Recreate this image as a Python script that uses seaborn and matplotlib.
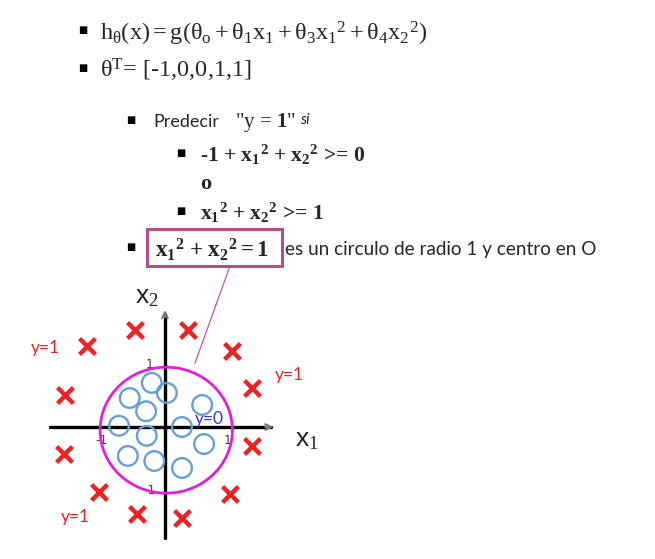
# Frontera de decision circular - diapositiva de regresion logistica

import pandas as pd
import seaborn as sns
import matplotlib.pyplot as plt
from matplotlib.patches import Ellipse, Rectangle

# Step 1: data (units of x1, x2)
cross_x1 = [-0.48, 0.37, -1.24, 1.06, -1.59, 1.38, -1.60, 1.38, -1.05, 1.03, -0.44, 0.27]
cross_x2 = [1.54, 1.54, 1.29, 1.21, 0.51, 0.62, -0.43, -0.30, -1.03, -1.06, -1.38, -1.44]
circle_x1 = [-0.21, -0.56, 0.03, -0.30, 0.59, -0.73, 0.27, -0.29, 0.62, -0.59, -0.17, 0.27]
circle_x2 = [0.70, 0.46, 0.54, 0.25, 0.35, 0.02, 0.00, -0.14, -0.27, -0.46, -0.54, -0.65]
tick_values = [-1, 1]
tick_labels = ['-1', '1']
boundary_radius = [1.05, 1.0]   # drawn boundary (x1, x2 semi-axes)

crosses = pd.DataFrame({'x1': cross_x1, 'x2': cross_x2})
circles = pd.DataFrame({'x1': circle_x1, 'x2': circle_x2})

# Step 2: figure + fonts
sns.set_style('white')
plt.rcParams['font.family'] = ['Lato', 'DejaVu Sans']
plt.rcParams['mathtext.fontset'] = 'custom'
plt.rcParams['mathtext.rm'] = 'Liberation Serif'
plt.rcParams['mathtext.it'] = 'Liberation Serif:italic'
plt.rcParams['mathtext.bf'] = 'Liberation Serif:bold'

W, H = 655, 559
fig = plt.figure(figsize=(W / 100, H / 100), dpi=100)


def px(x, y):
    return x / W, 1 - y / H


def bullet(x, y):
    fig.text(*px(x, y), '\u25a0', fontsize=7, ha='center', va='center',
             family='DejaVu Sans', color='black')


# Step 3: slide text
bullet(83, 30)
fig.text(*px(100, 40),
         r'$\mathrm{h_\theta(x) = g(\theta_o + \theta_1x_1 + \theta_3x_1{}^2 + \theta_4x_2{}^2)}$',
         fontsize=17.5, va='baseline')
bullet(83, 68)
fig.text(*px(100, 77), r'$\mathrm{\theta^T}$= [-1,0,0,1,1]', fontsize=17.5,
         va='baseline', family='Liberation Serif')

bullet(131, 120)
fig.text(*px(153, 127), 'Predecir', fontsize=13, va='baseline')
fig.text(*px(235, 127), r'"y = $\mathbf{1}$"', fontsize=15, va='baseline',
         family='Liberation Serif')
fig.text(*px(300, 124), 'si', fontsize=11, va='baseline', style='italic')

bullet(181, 153)
fig.text(*px(200, 162), r'-1 + $\mathbf{x_1{}^2\ {+}\ x_2{}^2}$ >= 0', fontsize=15.5,
         va='baseline', family='Liberation Serif', weight='bold')
fig.text(*px(200, 189), 'o', fontsize=16, va='baseline',
         family='Liberation Serif', weight='bold')
bullet(181, 211)
fig.text(*px(200, 220), r'$\mathbf{x_1{}^2\ {+}\ x_2{}^2}$ >= 1', fontsize=15.5,
         va='baseline', family='Liberation Serif', weight='bold')

bullet(131, 247)
fig.text(*px(155, 257), r'$\mathbf{x_1{}^2\ {+}\ x_2{}^2 = 1}$', fontsize=16.5,
         va='baseline')
fig.text(*px(285, 255), 'es un circulo de radio 1 y centro en O', fontsize=13.6,
         va='baseline')
x0, y0 = px(147, 266)
x1, y1 = px(282, 229)
fig.add_artist(Rectangle((x0, y0), x1 - x0, y1 - y0, transform=fig.transFigure,
                         fill=False, ec='#b84d8c', lw=2.2))

# Step 4: diagram axes in data units (origin ~ pixel 165,427, 63 px per unit)
ax = fig.add_axes([0, 0, 345 / W, 279 / H])
ax.set_xlim(-165 / 63, 180 / 63)
ax.set_ylim(-132 / 63, 147 / 63)
ax.axis('off')

ax.plot([-1.83, 1.68], [0, 0], color='black', lw=2.4, zorder=2)
ax.plot([0, 0], [-1.76, 1.80], color='black', lw=2.4, zorder=2)
ax.annotate('', xy=(1.76, 0), xytext=(1.55, 0),
            arrowprops=dict(arrowstyle='->', color='#777777', lw=1.5))
ax.annotate('', xy=(0, 1.90), xytext=(0, 1.70),
            arrowprops=dict(arrowstyle='->', color='#777777', lw=1.5))

for v, lab in zip(tick_values, tick_labels):
    ax.text(v, -0.21, lab, fontsize=9, ha='center', va='center', color='#444444',
            family='DejaVu Sans')
    ax.text(-0.24, v, lab, fontsize=9, ha='center', va='center', color='#444444',
            family='DejaVu Sans')
ax.text(-0.29, 2.06, r'x$_2$', fontsize=19, ha='center', va='center',
        color='#222222', family='Liberation Sans')
ax.text(2.25, -0.21, r'x$_1$', fontsize=19, ha='center', va='center',
        color='#222222', family='Liberation Sans')

# Step 5: decision boundary and samples
ax.add_patch(Ellipse((0.02, -0.05), 2 * boundary_radius[0], 2 * boundary_radius[1],
                     fill=False, ec='#e020d8', lw=2, zorder=3))
sns.scatterplot(data=crosses, x='x1', y='x2', marker='x', color='#ee2222',
                s=130, linewidth=3.2, ax=ax, zorder=4)
sns.scatterplot(data=circles, x='x1', y='x2', marker='o', fc='none',
                ec='#6a9fd4', s=200, linewidth=1.7, ax=ax, zorder=4)

ax.text(-1.90, 1.25, 'y=1', fontsize=12.5, color='#e8202a', ha='center', va='center')
ax.text(1.98, 0.83, 'y=1', fontsize=12.5, color='#e8202a', ha='center', va='center')
ax.text(-1.43, -1.43, 'y=1', fontsize=12.5, color='#e8202a', ha='center', va='center')
ax.text(0.71, 0.13, 'y=0', fontsize=12.5, color='#3a3acd', ha='center', va='center')

# line from the boxed equation down to the circle
ax.annotate('', xy=(0.46, 0.97), xycoords='data',
            xytext=px(230, 266), textcoords='figure fraction',
            arrowprops=dict(arrowstyle='-', color='#c0409a', lw=0.8))

fig.savefig('out.png', dpi=100)
